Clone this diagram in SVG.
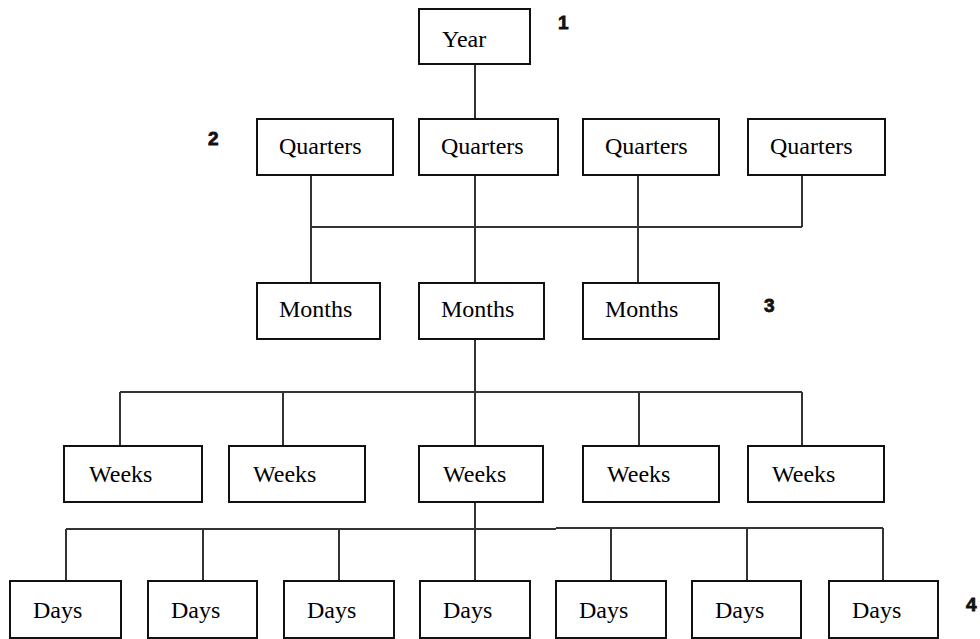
<svg xmlns="http://www.w3.org/2000/svg" width="980" height="639" viewBox="0 0 980 639">
<style>
.box{fill:#fff;stroke:#111;stroke-width:2}
.lbl{font-family:"Liberation Serif","Times New Roman",serif;font-size:24px;fill:#000}
.num{font-family:"Liberation Sans",Arial,sans-serif;font-size:19px;font-weight:bold;fill:#111;stroke:#111;stroke-width:0.8}
.ln{stroke:#333;stroke-width:2;fill:none}
</style>
<rect width="980" height="639" fill="#fff"/>
<g id="connectors">
<path class="ln" d="M475 64V119"/>
<path class="ln" d="M311 175V283M475 175V283M638 175V283M802 175V227M311 227H802"/>
<path class="ln" d="M475 339V446M120 392H802M120 392V446M283 392V446M639 392V446M802 392V446"/>
<path class="ln" d="M475 502V581M66 529H556M556 528H883M66 529V581M203 529V581M339 529V581M611 528V581M747 528V581M883 528V581"/>
</g>
<g id="year"><rect class="box" x="419" y="9" width="111" height="55"/><text class="lbl" x="442" y="47">Year</text></g>
<g id="q1"><rect class="box" x="257" y="119" width="136" height="56"/><text class="lbl" x="279" y="154">Quarters</text></g>
<g id="q2"><rect class="box" x="419" y="119" width="139" height="56"/><text class="lbl" x="441" y="154">Quarters</text></g>
<g id="q3"><rect class="box" x="583" y="119" width="136" height="56"/><text class="lbl" x="605" y="154">Quarters</text></g>
<g id="q4"><rect class="box" x="748" y="119" width="137" height="56"/><text class="lbl" x="770" y="154">Quarters</text></g>
<g id="m1"><rect class="box" x="257" y="283" width="123" height="56"/><text class="lbl" x="279" y="317">Months</text></g>
<g id="m2"><rect class="box" x="419" y="283" width="125" height="56"/><text class="lbl" x="441" y="317">Months</text></g>
<g id="m3"><rect class="box" x="583" y="283" width="136" height="56"/><text class="lbl" x="605" y="317">Months</text></g>
<g id="w1"><rect class="box" x="64" y="446" width="138" height="56"/><text class="lbl" x="89" y="482">Weeks</text></g>
<g id="w2"><rect class="box" x="229" y="446" width="136" height="56"/><text class="lbl" x="253" y="482">Weeks</text></g>
<g id="w3"><rect class="box" x="419" y="446" width="124" height="56"/><text class="lbl" x="443" y="482">Weeks</text></g>
<g id="w4"><rect class="box" x="583" y="446" width="136" height="56"/><text class="lbl" x="607" y="482">Weeks</text></g>
<g id="w5"><rect class="box" x="748" y="446" width="136" height="56"/><text class="lbl" x="772" y="482">Weeks</text></g>
<g id="d1"><rect class="box" x="10" y="581" width="111" height="57"/><text class="lbl" x="33" y="618">Days</text></g>
<g id="d2"><rect class="box" x="148" y="581" width="109" height="57"/><text class="lbl" x="171" y="618">Days</text></g>
<g id="d3"><rect class="box" x="284" y="581" width="110" height="57"/><text class="lbl" x="307" y="618">Days</text></g>
<g id="d4"><rect class="box" x="420" y="581" width="110" height="57"/><text class="lbl" x="443" y="618">Days</text></g>
<g id="d5"><rect class="box" x="556" y="581" width="110" height="57"/><text class="lbl" x="579" y="618">Days</text></g>
<g id="d6"><rect class="box" x="692" y="581" width="109" height="57"/><text class="lbl" x="715" y="618">Days</text></g>
<g id="d7"><rect class="box" x="829" y="581" width="109" height="57"/><text class="lbl" x="852" y="618">Days</text></g>
<g id="levels">
<text class="num" x="558" y="29">1</text>
<text class="num" x="208" y="145">2</text>
<text class="num" x="764" y="312">3</text>
<text class="num" x="966" y="611">4</text>
</g>
</svg>
